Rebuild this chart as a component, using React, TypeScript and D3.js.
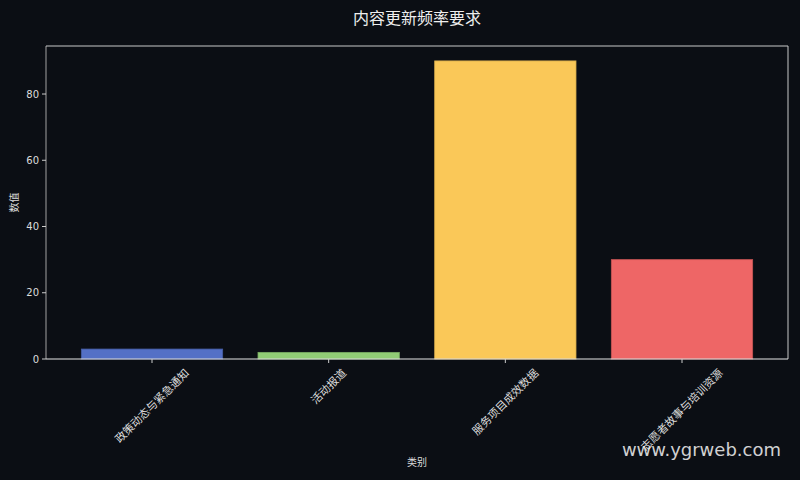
import React, { useRef, useEffect } from "react";
import * as d3 from "d3";

const categories = ["政策动态与紧急通知", "活动报道", "服务项目成效数据", "志愿者故事与培训资源"];
const values = [3, 2, 90, 30];
const barColors = ["#5470c6", "#91cc75", "#fac858", "#ee6666"];
const yTicks = [0, 20, 40, 60, 80];

const W = 800;
const H = 480;
const FONT = "'DejaVu Sans', 'Noto Sans CJK SC', sans-serif";

export default function App() {
  const svgRef = useRef<SVGSVGElement>(null);

  useEffect(() => {
    if (!svgRef.current) return;
    const svg = d3.select(svgRef.current);
    svg.selectAll("*").remove();

    const left = 46;
    const right = 788;
    const top = 46;
    const bottom = 359;

    svg.append("rect").attr("width", W).attr("height", H).attr("fill", "#0b0e14");

    // x：matplotlib 风格的连续坐标 (-0.6 .. 3.6)
    const x = d3.scaleLinear().domain([-0.6, categories.length - 0.4]).range([left, right]);
    const y = d3
      .scaleLinear()
      .domain([0, d3.max(values)! * 1.05])
      .range([bottom, top]);
    const bw = x(0.4) - x(0);

    // 柱子
    svg
      .selectAll("rect.bar")
      .data(values)
      .join("rect")
      .attr("class", "bar")
      .attr("x", (_, i) => x(i) - bw)
      .attr("width", bw * 2)
      .attr("y", (d) => y(d))
      .attr("height", (d) => bottom - y(d))
      .attr("fill", (_, i) => barColors[i])
      .attr("stroke", (_, i) => d3.color(barColors[i])!.darker(0.5).toString())
      .attr("stroke-width", 0.8);

    // 边框
    svg.append("line").attr("x1", left).attr("x2", left).attr("y1", top).attr("y2", bottom)
      .attr("stroke", "#8a8a8a").attr("stroke-width", 1.2);
    svg.append("line").attr("x1", left).attr("x2", right).attr("y1", top).attr("y2", top)
      .attr("stroke", "#c8c8c8").attr("stroke-width", 1);
    svg.append("line").attr("x1", right).attr("x2", right).attr("y1", top).attr("y2", bottom)
      .attr("stroke", "#c8c8c8").attr("stroke-width", 1);
    svg.append("line").attr("x1", left).attr("x2", right).attr("y1", bottom).attr("y2", bottom)
      .attr("stroke", "#e6e6e6").attr("stroke-width", 1.2);

    // y 轴刻度
    const yg = svg.append("g");
    yTicks.forEach((t) => {
      yg.append("line").attr("x1", left - 4).attr("x2", left).attr("y1", y(t)).attr("y2", y(t))
        .attr("stroke", "#cccccc").attr("stroke-width", 1);
      yg.append("text").attr("x", left - 7).attr("y", y(t)).attr("dy", "0.35em")
        .attr("text-anchor", "end").style("font-family", FONT).style("font-size", "10px")
        .style("fill", "#dddddd").text(t);
    });

    // x 轴刻度与旋转标签
    categories.forEach((c, i) => {
      const tx = x(i);
      svg.append("line").attr("x1", tx).attr("x2", tx).attr("y1", bottom).attr("y2", bottom + 4)
        .attr("stroke", "#cccccc").attr("stroke-width", 1);
      const len = c.length * 11;
      const box = (len + 11) / Math.SQRT2;
      const cy = bottom + 8 + box / 2;
      svg.append("text")
        .attr("transform", `translate(${tx},${cy}) rotate(-45)`)
        .attr("text-anchor", "middle").attr("dy", "0.35em")
        .style("font-family", FONT).style("font-size", "11px").style("fill", "#dddddd")
        .text(c);
    });

    // 轴标题
    svg.append("text").attr("x", (left + right) / 2).attr("y", 466).attr("text-anchor", "middle")
      .style("font-family", FONT).style("font-size", "10px").style("fill", "#dddddd").text("类别");
    svg.append("text").attr("transform", `translate(18,${(top + bottom) / 2}) rotate(-90)`)
      .attr("text-anchor", "middle").style("font-family", FONT).style("font-size", "10px")
      .style("fill", "#dddddd").text("数值");

    // 标题
    svg.append("text").attr("x", (left + right) / 2).attr("y", 24).attr("text-anchor", "middle")
      .style("font-family", FONT).style("font-size", "16px").style("fill", "#eeeeee")
      .text("内容更新频率要求");

    // 水印
    svg.append("text").attr("x", 781).attr("y", 456).attr("text-anchor", "end")
      .style("font-family", FONT).style("font-size", "18px").style("fill", "rgba(255,255,255,0.82)")
      .text("www.ygrweb.com");
  }, []);

  return (
    <svg
      ref={svgRef}
      width={W}
      height={H}
      viewBox={`0 0 ${W} ${H}`}
      style={{ position: "absolute", left: 0, top: 0, display: "block" }}
    />
  );
}
